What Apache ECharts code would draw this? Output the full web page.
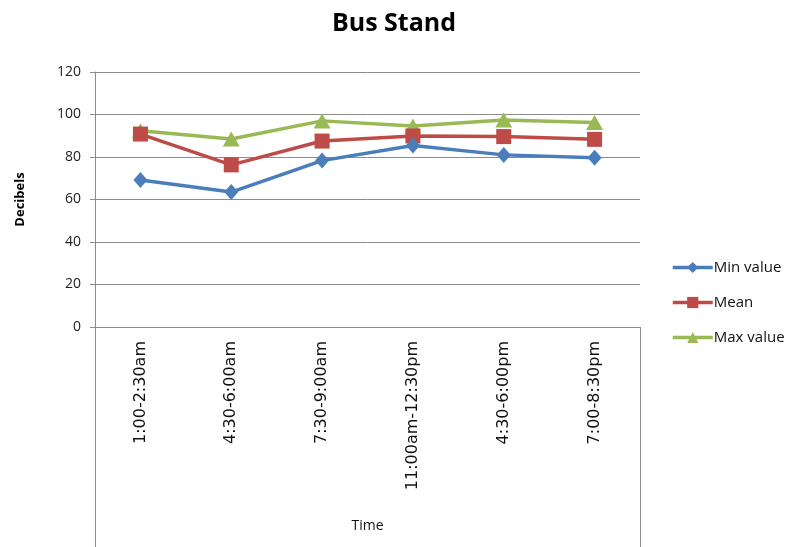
<!DOCTYPE html>
<html>
<head>
<meta charset="utf-8">
<script src="https://cdn.jsdelivr.net/npm/echarts@6/dist/echarts.min.js"></script>
<style>
  html, body { margin: 0; padding: 0; background: #fff; }
  #myChart { width: 788px; height: 547px; }
</style>
</head>
<body>
<div id="myChart"></div>
<script>
const categories = ['1:00-2:30am', '4:30-6:00am', '7:30-9:00am', '11:00am-12:30pm', '4:30-6:00pm', '7:00-8:30pm'];
const minValue = [69.2, 63.5, 78.3, 85.4, 81.0, 79.6];
const meanValue = [90.8, 76.3, 87.5, 89.9, 89.6, 88.3];
const maxValue = [92.4, 88.5, 97.0, 94.6, 97.4, 96.2];
const yTicks = [0, 20, 40, 60, 80, 100, 120];

const seriesNames = ['Min value', 'Mean', 'Max value'];
const seriesData = { 'Min value': minValue, 'Mean': meanValue, 'Max value': maxValue };
const colors = { 'Min value': '#4A7EBB', 'Mean': '#BE4B48', 'Max value': '#98B954' };
const symbols = { 'Min value': 'diamond', 'Mean': 'rect', 'Max value': 'triangle' };
const symbolSizes = { 'Min value': [14, 16], 'Mean': 15, 'Max value': [17, 15] };

let myChart = echarts.init(document.getElementById('myChart'));
myChart.setOption({
  animation: false,
  title: {
    text: 'Bus Stand',
    left: 'center',
    top: 6,
    textStyle: { fontFamily: 'Open Sans', fontWeight: 'bold', fontSize: 25, color: '#000' }
  },
  legend: {
    data: seriesNames,
    orient: 'vertical',
    left: 666,
    top: 255,
    itemGap: 20,
    itemWidth: 40,
    itemHeight: 14,
    lineStyle: { width: 3.5 },
    textStyle: { fontFamily: 'Open Sans', fontSize: 15, color: '#111', padding: [0, 0, 0, -4] }
  },
  grid: { left: 95, right: 148, top: 72, bottom: 220 },
  xAxis: {
    type: 'category',
    data: categories,
    boundaryGap: true,
    name: 'Time',
    nameLocation: 'middle',
    nameGap: 192,
    nameTextStyle: { fontFamily: 'Open Sans', fontSize: 14, color: '#111' },
    axisLine: { show: true, lineStyle: { color: '#8c8c8c', width: 1 } },
    axisTick: { show: false },
    axisLabel: { rotate: 90, margin: 14, fontFamily: 'DejaVu Sans', fontSize: 16, color: '#111' }
  },
  yAxis: {
    type: 'value',
    min: yTicks[0],
    max: yTicks[yTicks.length - 1],
    interval: 20,
    name: 'Decibels',
    nameLocation: 'middle',
    nameRotate: 90,
    nameGap: 68,
    nameTextStyle: { fontFamily: 'Open Sans', fontWeight: 'bold', fontSize: 13, color: '#000' },
    axisLine: { show: true, lineStyle: { color: '#8c8c8c', width: 1 } },
    axisTick: { show: true, length: 5, lineStyle: { color: '#8c8c8c' } },
    axisLabel: { margin: 14, fontFamily: 'Open Sans', fontSize: 14, color: '#222' },
    splitLine: { lineStyle: { color: '#8c8c8c', width: 1 } }
  },
  graphic: [
    { type: 'line', shape: { x1: 95.5, y1: 327, x2: 95.5, y2: 547 }, style: { stroke: '#8c8c8c', lineWidth: 1 } },
    { type: 'line', shape: { x1: 640.5, y1: 327, x2: 640.5, y2: 547 }, style: { stroke: '#8c8c8c', lineWidth: 1 } }
  ],
  series: seriesNames.map(name => ({
    name: name,
    type: 'line',
    data: seriesData[name],
    symbol: symbols[name],
    symbolSize: symbolSizes[name],
    itemStyle: { color: colors[name] },
    lineStyle: { color: colors[name], width: 3.5 },
    z: name === 'Max value' ? 1 : (name === 'Mean' ? 2 : 3)
  }))
});
</script>
</body>
</html>
